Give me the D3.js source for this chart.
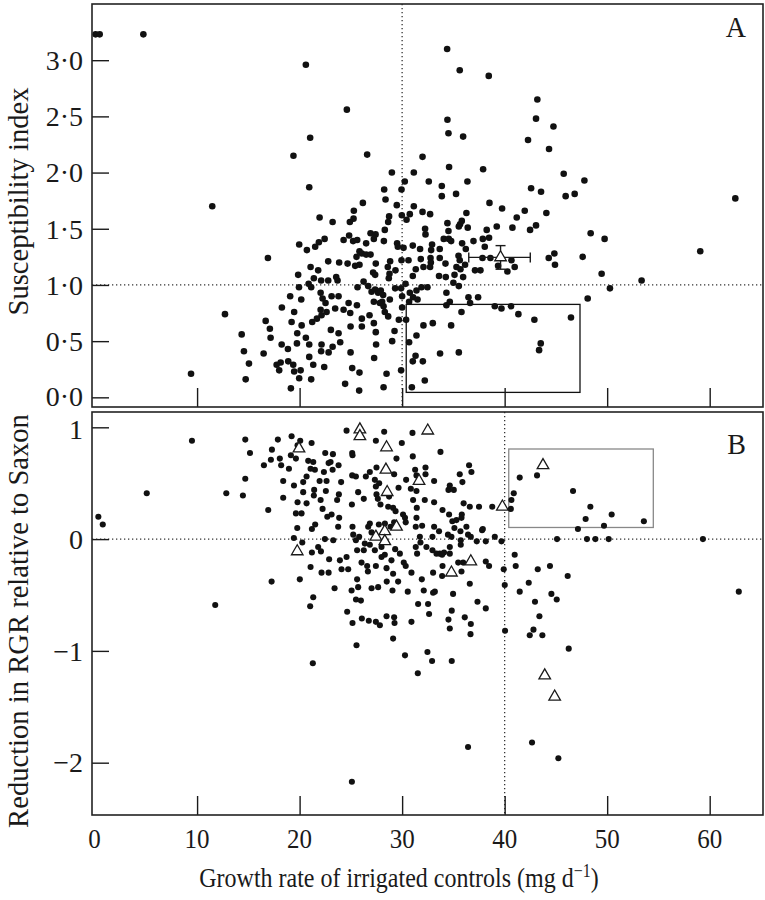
<!DOCTYPE html>
<html><head><meta charset="utf-8">
<script src="https://cdn.jsdelivr.net/npm/d3@7"></script>
<style>
html,body{margin:0;padding:0;background:#fff;}
svg text{font-family:"Liberation Serif","Times New Roman",serif;fill:#1a1a1a;}
</style></head>
<body>
<svg id="chart" width="765" height="900"></svg>
<script>
// ---------- DATA ----------
const xTicks = [0, 10, 20, 30, 40, 50, 60];
const yTicksA = [0, 0.5, 1, 1.5, 2, 2.5, 3];
const yTicksB = [-2, -1, 0, 1];
const panelLabels = ["A", "B"];
const xTitle = "Growth rate of irrigated controls (mg d";
const yTitleA = "Susceptibility index";
const yTitleB = "Reduction in RGR relative to Saxon";

// Panel A: growth rate (mg/d) vs susceptibility index
const pointsA = [
[0.1,3.23],[0.5,3.23],[4.76,3.23],[11.48,1.70],[12.72,0.74],[14.35,0.56],[14.57,0.41],[15.06,0.30],[9.41,0.21],[14.74,0.16],
[19.4,2.15],[16.91,1.24],[19.08,0.90],[18.27,0.80],[19.47,0.76],[16.69,0.68],[19.22,0.67],[17.10,0.61],[17.17,0.53],[18.25,0.47],
[18.86,0.43],[16.49,0.39],[18.15,0.31],[17.76,0.29],[18.89,0.32],[19.38,0.29],[18.01,0.24],[19.47,0.23],[19.15,0.08],
[34.39,3.10],[35.62,2.91],[38.45,2.86],[20.61,2.96],[24.61,2.56],[21.03,2.31],[34.42,2.47],[34.52,2.35],[35.95,2.32],[26.59,2.16],
[20.94,1.87],[34.58,2.05],[31.99,2.14],[37.90,2.03],[29.0,2.00],[31.14,2.00],[30.26,1.92],[32.6,1.92],[33.87,1.88],[33.87,1.79],
[28.25,1.85],[29.94,1.85],[35.26,1.81],[36.37,1.92],[28.38,1.76],[29.48,1.71],[26.17,1.73],[38.52,1.73],[39.75,1.68],[25.29,1.66],
[25.26,1.59],[24.9,1.56],[21.95,1.60],[23.22,1.56],[28.73,1.61],[28.64,1.56],[28.31,1.49],[29.97,1.62],[30.43,1.58],[30.75,1.63],
[31.14,1.70],[31.99,1.65],[32.73,1.63],[32.24,1.50],[32.28,1.45],[34.42,1.55],[34.52,1.48],[34.06,1.41],[34.55,1.41],[34.78,1.39],
[35.65,1.54],[35.82,1.57],[35.53,1.52],[36.4,1.51],[36.27,1.64],[38.25,1.49],[39.23,1.52],[38.48,1.42],[37.87,1.41],[36.96,1.39],
[35.85,1.37],[36.21,1.32],[22.44,1.41],[21.88,1.38],[21.52,1.34],[19.96,1.36],[20.71,1.31],[24.29,1.40],[24.83,1.44],[25.22,1.39],
[25.62,1.40],[26.49,1.37],[26.92,1.46],[27.41,1.45],[27.24,1.41],[28.22,1.39],[29.51,1.37],[29.58,1.34],[30.14,1.33],[31.04,1.35],
[31.75,1.32],[32.92,1.36],[32.83,1.31],[33.67,1.32],[33.67,1.24],[32.77,1.24],[32.80,1.20],[32.73,1.16],[31.82,1.23],[32.08,1.16],
[30.62,1.22],[31.33,1.14],[31.04,1.08],[29.94,1.22],[28.83,1.21],[28.6,1.16],[28.77,1.10],[28.7,1.06],[29.35,1.13],[25.84,1.30],
[26.07,1.28],[26.49,1.27],[26.92,1.27],[25.55,1.25],[25.42,1.17],[25.84,1.18],[27.43,1.19],[27.17,1.11],[27.37,1.09],[24.68,1.19],
[23.86,1.20],[22.79,1.21],[21.81,1.13],[21.07,1.16],[19.86,1.09],[22.1,1.04],[22.79,1.04],[23.57,1.07],[23.70,1.04],[20.88,1.01],
[21.13,0.98],[21.39,1.06],[19.94,0.98],[22.05,0.93],[22.24,0.88],[22.53,0.84],[23.12,0.90],[23.80,0.90],[23.47,0.79],[22.05,0.78],
[22.14,0.73],[21.69,0.70],[21.23,0.67],[22.63,0.76],[23.05,0.60],[23.8,0.57],[24.29,0.78],[24.78,0.84],[25.59,0.82],[24.94,0.75],
[25.65,0.98],[26.24,1.03],[26.69,0.99],[27.02,0.94],[27.37,0.96],[27.66,0.93],[27.92,0.95],[28.15,0.91],[27.24,0.85],[27.83,0.84],
[28.05,0.85],[28.19,0.81],[28.31,0.76],[28.64,0.72],[28.80,0.87],[29.32,0.97],[29.9,0.97],[30.33,1.01],[30.75,0.93],[31.07,0.89],
[31.4,0.95],[31.5,0.87],[31.89,0.98],[32.47,0.98],[30.0,0.90],[30.0,0.80],[30.39,0.69],[29.68,0.69],[29.26,0.59],[29.03,0.50],
[27.43,0.58],[27.24,0.66],[26.82,0.73],[26.07,0.70],[26.07,0.63],[24.97,0.63],[23.96,0.49],[23.22,0.45],[22.83,0.40],[22.14,0.47],
[22.1,0.41],[20.94,0.47],[20.61,0.53],[19.77,0.57],[20.2,0.64],[20.16,0.87],[19.74,0.48],[20.94,0.36],[21.33,0.29],[22.40,0.27],
[21.13,0.16],[20.1,0.24],[19.96,0.17],[24.97,0.40],[25.13,0.26],[25.84,0.22],[24.44,0.12],[25.81,0.06],[27.27,0.35],[27.46,0.47],
[28.19,0.09],[28.48,0.21],[29.9,0.24],
[30.68,0.49],[31.4,0.55],[32.08,0.64],[32.99,0.66],[34.78,0.64],[35.79,0.76],[33.70,0.39],[35.53,0.40],[31.31,0.37],[31.04,0.32],
[32.02,0.32],[32.21,0.15],[30.95,0.09],[30.68,0.85],[34.32,0.93],[34.32,0.82],[34.65,0.85],[35.0,1.02],[35.53,0.99],[36.47,0.89],
[36.63,0.84],[37.41,0.89],[34.26,1.07],[35.11,1.09],[33.6,1.08],[35.3,1.16],[35.69,1.14],[35.5,1.26],[35.62,1.22],[34.23,1.19],
[35.95,1.07],[36.14,1.18],[37.11,1.13],[37.84,1.24],[38.61,1.24],[39.04,0.81],[39.69,0.79],[40.27,1.12],[39.36,1.17],
[41.18,1.60],[41.96,1.66],[40.76,1.51],[38.06,1.34],[37.64,1.13],[40.98,1.16],[40.62,0.81],[41.34,0.74],
[43.19,2.65],[43.06,2.48],[44.76,2.41],[42.28,2.29],[44.33,2.21],[45.76,1.99],[47.78,1.93],[42.58,1.86],[43.55,1.83],[45.95,1.79],
[46.83,1.81],[62.5,1.77],[44.07,1.64],[42.48,1.49],[43.06,1.53],[48.39,1.46],[49.75,1.41],[59.08,1.30],[40.66,1.22],[44.3,1.24],
[44.85,1.28],[44.91,1.18],[47.61,1.25],[49.46,1.10],[53.36,1.04],[50.27,0.97],[48.1,0.88],[42.9,0.69],[46.47,0.71],[43.52,0.48],
[43.36,0.42]
];
// Panel A: mean marker with error bars
const meanA = {x: 39.6, y: 1.245, xLo: 36.5, xHi: 42.5, yLo: 1.14, yHi: 1.35};
// Panel A highlighted region [x0, x1, y0, y1]
const boxA = [30.4, 47.35, 0.044, 0.827];

// Panel B: growth rate vs reduction in RGR relative to Saxon
const pointsB = [
[0.37,0.20],[0.80,0.13],[5.09,0.41],[9.50,0.88],[14.7,0.89],[15.16,0.77],[14.7,0.54],[12.85,0.41],[14.47,0.39],[11.77,-0.59],
[17.88,0.89],[19.22,0.92],[17.3,0.80],[17.2,0.71],[16.52,0.66],[18.07,0.72],[18.2,0.66],[18.96,0.63],[19.15,0.75],[19.64,0.72],
[18.4,0.52],[18.4,0.37],[19.45,0.48],[16.94,0.26],[19.8,0.33],[19.64,0.23],[19.77,0.10],[19.44,0.01],[20.02,-0.36],[17.27,-0.38],
[24.58,0.97],[28.25,0.96],[31.01,0.95],[27.44,0.88],[29.97,0.86],[20.06,0.88],[21.17,0.86],[19.8,0.84],[25.13,0.77],[25.16,0.75],
[22.5,0.77],[23.25,0.76],[33.74,0.78],[31.04,0.74],[29.45,0.72],[20.84,0.70],[21.33,0.69],[22.83,0.68],[22.37,0.60],[23.22,0.62],
[21.49,0.62],[21.07,0.63],[20.68,0.56],[20.35,0.51],[21.95,0.52],[22.63,0.52],[21.42,0.44],[21.39,0.39],[22.05,0.35],[22.56,0.43],
[20.68,0.32],[20.19,0.23],[22.24,0.27],[22.70,0.20],[23.12,0.22],[21.52,0.13],[21.2,0.09],[20.26,-0.03],[21.81,-0.07],[21.2,-0.12],
[22.08,-0.11],[22.88,-0.18],[21.07,-0.25],[22.14,-0.30],[22.83,-0.30],[23.93,-0.19],[24.09,-0.27],[24.74,-0.27],[23.41,-0.44],[21.33,-0.52],
[21.03,-0.60],[21.29,-1.11],[23.80,0.66],[24.05,0.51],[23.66,0.35],[23.86,0.19],[23.76,0.11],[25.13,0.57],[25.49,0.56],[25.1,0.31],
[25.16,0.11],[25.71,0.42],[26.26,0.36],[25.81,0.02],[25.61,-0.10],[26.26,-0.10],[26.04,-0.21],[26.59,-0.24],[26.66,-0.29],[27.44,-0.24],
[26.69,0.11],[27.02,0.06],[26.46,0.56],[26.85,0.60],[27.5,0.64],[27.34,0.53],[27.76,0.50],[27.44,0.47],[27.5,0.40],[27.63,0.36],
[27.89,0.31],[28.73,0.38],[28.64,0.29],[29.12,0.28],[29.36,0.25],[29.65,0.46],[30.09,0.22],[30.28,0.19],[30.35,0.15],[29.22,0.15],
[26.85,0.14],[29.32,-0.09],[29.78,-0.13],[28.31,-0.14],[28.96,-0.19],[27.99,-0.07],[28.48,-0.26],[29.12,-0.31],[30.16,-0.21],[30.35,-0.24],
[30.91,-0.30],[28.50,-0.38],[29.61,-0.38],[29.06,-0.46],[30.55,-0.47],[25.61,-0.36],[25.71,-0.43],[25.5,-0.54],[25.98,-0.55],[25.07,-0.46],
[24.64,-0.65],[25.16,-0.75],[26.07,-0.71],[26.75,-0.73],[27.44,-0.74],[27.83,-0.77],[28.48,-0.69],[29.22,-0.70],[29.26,-0.75],[29.12,-0.89],
[25.55,-0.95],[30.28,-1.04],[31.53,-1.20],[32.47,-1.01],[32.92,-1.09],[34.84,-1.09],[36.43,-1.86],[25.1,-2.17],[30.91,-0.74],[31.56,-0.58],
[32.53,-0.58],[32.63,-0.67],[32.11,-0.46],[33.02,-0.48],[31.92,-0.36],[33.02,-0.30],[33.94,-0.24],[33.90,-0.33],[34.97,-0.49],[34.84,-0.64],
[34.52,-0.72],[34.65,-0.80],[36.11,-0.70],[36.7,-0.76],[36.67,-0.85],[37.35,-0.56],[38.16,-0.62],[36.60,-0.40],[35.95,-0.21],[35.47,-0.21],
[34.65,-0.13],[34.09,-0.12],[33.67,-0.13],[32.96,-0.10],[32.37,-0.07],[31.79,-0.03],[31.33,-0.07],[31.46,-0.13],[31.73,0.02],[32.96,0.02],
[34.65,-0.07],[34.81,0.02],[34.90,0.16],[35.1,0.10],[35.69,0.07],[36.27,0.11],[36.43,0.04],[35.72,-0.01],[35.72,-0.05],[37.28,-0.02],
[37.80,0.08],[38.16,-0.02],[39.04,0.02],[38.16,-0.20],[38.48,-0.24],[34.58,0.22],[35.30,0.17],[35.82,0.22],[33.94,0.26],[34.52,0.44],
[35.04,0.44],[34.65,0.48],[35.62,0.58],[36.53,0.66],[36.76,0.60],[35.88,0.51],[36.0,0.32],[36.60,0.29],[37.50,0.29],[38.79,0.29],
[33.12,0.33],[32.21,0.35],[31.4,0.43],[30.85,0.45],[31.07,0.35],[31.43,0.28],[31.27,0.62],[31.4,0.57],[32.28,0.64],[32.28,0.58],
[33.12,0.52],[30.39,0.53],[31.33,0.11],[31.4,0.19],[31.95,0.12],[33.12,0.11],[33.6,0.07],
[41.47,0.55],[43.16,0.57],[40.89,0.41],[40.66,0.35],[40.6,0.27],[46.67,0.43],[48.36,0.29],[47.90,0.18],[50.44,0.22],[49.69,0.12],
[47.15,0.09],[53.58,0.16],[39.69,-0.02],[45.11,0.0],[48.03,0.0],[48.85,0.0],[50.15,0.0],[59.34,0.0],[40.98,-0.14],[39.91,-0.27],
[41.08,-0.24],[43.23,-0.27],[44.42,-0.24],[46.15,-0.33],[40.01,-0.41],[42.35,-0.39],[41.47,-0.47],[44.56,-0.49],[45.08,-0.54],[42.96,-0.56],
[62.84,-0.47],[43.39,-0.69],[40.04,-0.82],[42.45,-0.86],[42.81,-0.81],[43.68,-0.86],[46.25,-0.98],[42.67,-1.82],[45.24,-1.96],
[35.79,0.19],[37.87,0.09],[34.47,0.04],[36.7,0.02],[33.35,-0.13],[33.9,-0.14],[35.79,-0.29],[33.19,-0.47],
[20.35,0.42],[22.47,0.0],[23.28,-0.01],[24.58,-0.16],[27.02,-0.44],[27.66,-0.43],[25.23,0.04],[25.49,-0.01],[26.36,-0.04],[26.85,-0.05],
[27.34,-0.10],[27.99,-0.16],[27.73,0.13],[28.32,0.14],[28.87,0.11],[29.22,0.58],[23.83,0.40],[23.02,0.69]
];
// Panel B: open triangles
const trianglesB = [
[19.94,0.81],[19.77,-0.11],[25.88,0.98],[25.88,0.92],[28.48,0.82],[32.5,0.97],[28.42,0.62],[31.65,0.52],[28.54,0.42],[29.45,0.11],
[28.31,0.07],[27.44,0.02],[28.31,-0.02],[36.7,-0.20],[34.81,-0.30],[39.78,0.29],[43.74,0.66],[43.91,-1.22],[44.88,-1.41]
];
const boxB = [40.4, 54.5, 0.104, 0.806];
// Reference lines
const refA = {x: 30, y: 1};
const refB = {x: 40, y: 0};

// ---------- LAYOUT ----------
const svg = d3.select("#chart");
const L = 92, R = 763;
const panA = {top: 4, bottom: 407};
const panB = {top: 412, bottom: 815};
const x = d3.scaleLinear().domain([-0.25, 65.2]).range([L, R]);
const yA = d3.scaleLinear().domain([-0.086, 3.5]).range([panA.bottom, panA.top]);
const yB = d3.scaleLinear().domain([-2.468, 1.137]).range([panB.bottom, panB.top]);
const ink = "#1a1a1a";
const serif = "Liberation Serif, Times New Roman, serif";

function fmtA(d){ return d3.format(".1f")(d).replace(".", "\u00B7"); }
function fmtB(d){ return d < 0 ? "\u2212" + Math.abs(d) : String(d); }

// nudge (px) for the two labels that sit next to the gap between panels
function panel(y, pb, yTicks, fmt, pts, r, ref, box, boxColor, label, labelY, nudge){
  const g = svg.append("g");
  // reference dotted lines
  g.append("line").attr("x1", x(ref.x)).attr("x2", x(ref.x)).attr("y1", pb.top).attr("y2", pb.bottom)
    .attr("stroke", "#333").attr("stroke-width", 1.3).attr("stroke-dasharray", "1.3,2.7");
  g.append("line").attr("x1", L).attr("x2", R).attr("y1", y(ref.y)).attr("y2", y(ref.y))
    .attr("stroke", "#333").attr("stroke-width", 1.3).attr("stroke-dasharray", "1.3,2.7");
  // box
  g.append("rect").attr("x", x(box[0])).attr("y", y(box[3]))
    .attr("width", x(box[1]) - x(box[0])).attr("height", y(box[2]) - y(box[3]))
    .attr("fill", "none").attr("stroke", boxColor).attr("stroke-width", 1.3);
  // y axis (ticks inside)
  const ya = g.append("g").attr("transform", `translate(${L},0)`)
    .call(d3.axisLeft(y).tickValues(yTicks).tickSize(-17).tickPadding(9).tickFormat(fmt));
  ya.select(".domain").remove();
  ya.selectAll("line").attr("stroke", ink).attr("stroke-width", 1.4);
  ya.selectAll("text").attr("font-size", 28).attr("font-family", serif).attr("fill", ink)
    .attr("dy", "0.33em").attr("y", d => nudge(d));
  // x ticks (inside, pointing up)
  const xa = g.append("g").attr("transform", `translate(0,${pb.bottom})`)
    .call(d3.axisBottom(x).tickValues(xTicks.filter(d => d > 0)).tickSize(-19).tickFormat(""));
  xa.select(".domain").remove();
  xa.selectAll("line").attr("stroke", ink).attr("stroke-width", 1.4);
  // points
  g.append("g").selectAll("circle").data(pts).join("circle")
    .attr("cx", d => x(d[0])).attr("cy", d => y(d[1])).attr("r", r).attr("fill", "#111");
  // frame
  g.append("rect").attr("x", L).attr("y", pb.top).attr("width", R - L).attr("height", pb.bottom - pb.top)
    .attr("fill", "none").attr("stroke", "#222").attr("stroke-width", 1.6);
  // panel letter
  g.append("text").attr("transform", `translate(746,${labelY}) scale(1,1.05)`).attr("text-anchor", "end")
    .attr("font-size", 28).text(label);
  return g;
}

const gA = panel(yA, panA, yTicksA, fmtA, pointsA, 3.3, refA, boxA, "#111", panelLabels[0], 37,
  d => d === yTicksA[0] ? -1.5 : 0);
const gB = panel(yB, panB, yTicksB, fmtB, pointsB, 3.05, refB, boxB, "#888", panelLabels[1], 454,
  d => d === yTicksB[yTicksB.length - 1] ? 1.5 : 0);

// Panel A mean with error bars
const eb = gA.append("g").attr("stroke", ink).attr("stroke-width", 1.4).attr("fill", "none");
eb.append("line").attr("x1", x(meanA.xLo)).attr("x2", x(meanA.xHi)).attr("y1", yA(meanA.y)).attr("y2", yA(meanA.y));
eb.append("line").attr("x1", x(meanA.xLo)).attr("x2", x(meanA.xLo)).attr("y1", yA(meanA.y) - 5).attr("y2", yA(meanA.y) + 5);
eb.append("line").attr("x1", x(meanA.xHi)).attr("x2", x(meanA.xHi)).attr("y1", yA(meanA.y) - 5).attr("y2", yA(meanA.y) + 5);
eb.append("line").attr("x1", x(meanA.x)).attr("x2", x(meanA.x)).attr("y1", yA(meanA.yLo)).attr("y2", yA(meanA.yHi));
eb.append("line").attr("x1", x(meanA.x) - 5).attr("x2", x(meanA.x) + 5).attr("y1", yA(meanA.yHi)).attr("y2", yA(meanA.yHi));
eb.append("line").attr("x1", x(meanA.x) - 5).attr("x2", x(meanA.x) + 5).attr("y1", yA(meanA.yLo)).attr("y2", yA(meanA.yLo));
const tri = d3.symbol().type(d3.symbolTriangle).size(58);
gA.append("path").attr("d", tri()).attr("transform", `translate(${x(meanA.x)},${yA(meanA.y)})`)
  .attr("fill", "#fff").attr("stroke", ink).attr("stroke-width", 1.3);

// Panel B triangles
gB.append("g").selectAll("path").data(trianglesB).join("path")
  .attr("d", tri()).attr("transform", d => `translate(${x(d[0])},${yB(d[1])})`)
  .attr("fill", "#fff").attr("stroke", ink).attr("stroke-width", 1.3);

// x tick labels (below panel B)
svg.append("g").selectAll("text").data(xTicks).join("text")
  .attr("transform", d => `translate(${x(d)},848) scale(1,1.06)`).attr("text-anchor", "middle")
  .attr("font-size", 25).text(d => d);

// x title
const xt = svg.append("text").attr("transform", "translate(399,887) scale(1,1.15)")
  .attr("text-anchor", "middle").attr("font-size", 24);
xt.append("tspan").text(xTitle);
xt.append("tspan").attr("dy", -9).attr("font-size", 16).text("\u22121");
xt.append("tspan").attr("dy", 9).text(")");

// y titles
svg.append("text").attr("transform", `translate(28,${(panA.top + panA.bottom) / 2 - 4}) rotate(-90)`)
  .attr("text-anchor", "middle").attr("font-size", 28.6).text(yTitleA);
svg.append("text").attr("transform", `translate(28,621) rotate(-90)`)
  .attr("text-anchor", "middle").attr("font-size", 28.6).text(yTitleB);
</script>
</body></html>
